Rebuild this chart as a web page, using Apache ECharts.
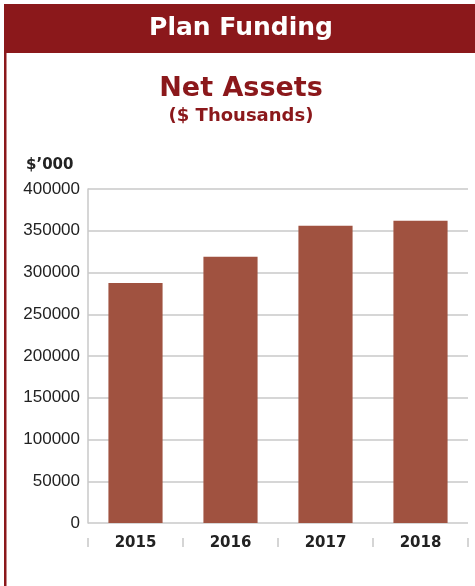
<!DOCTYPE html>
<html><head><meta charset="utf-8">
<script src="https://cdn.jsdelivr.net/npm/echarts@6/dist/echarts.min.js"></script>
<style>html,body{margin:0;padding:0;background:#fff}#c{width:475px;height:586px}</style>
</head><body><div id="c"></div>
<script>
var categories = ['2015', '2016', '2017', '2018'];
var netAssets = [287500, 319000, 356000, 362000];
var yTicks = [0, 50000, 100000, 150000, 200000, 250000, 300000, 350000, 400000];

var chart = echarts.init(document.getElementById('c'), null, {renderer: 'canvas'});
var red = '#8B181B';
var headFont = '"DejaVu Sans", sans-serif';
var option = {
  animation: false,
  backgroundColor: '#fff',
  graphic: [
    {type: 'rect', shape: {x: 4, y: 4, width: 471, height: 49}, style: {fill: red}},
    {type: 'rect', shape: {x: 4, y: 53, width: 2.5, height: 533}, style: {fill: red}},
    {type: 'text', x: 241, y: 28, style: {text: 'Plan Funding', fill: '#fff', font: 'bold 25px ' + headFont, textAlign: 'center', textVerticalAlign: 'middle'}},
    {type: 'text', x: 241, y: 89, style: {text: 'Net Assets', fill: red, font: 'bold 27px ' + headFont, textAlign: 'center', textVerticalAlign: 'middle'}},
    {type: 'text', x: 241, y: 116, style: {text: '($ Thousands)', fill: red, font: 'bold 18px ' + headFont, textAlign: 'center', textVerticalAlign: 'middle'}},
    {type: 'text', x: 26, y: 165, style: {text: '$\u2019000', fill: '#222', font: 'bold 15px ' + headFont, textAlign: 'left', textVerticalAlign: 'middle'}}
  ],
  grid: {left: 88, right: 7, top: 189, bottom: 63},
  xAxis: [
    {type: 'category', data: categories, axisLine: {show: false}, axisTick: {show: false},
     axisLabel: {margin: 13, color: '#222', fontSize: 15, fontWeight: 'bold', fontFamily: headFont}},
    {type: 'category', data: categories, position: 'bottom', offset: 15, axisLine: {show: false},
     axisTick: {show: true, length: 9, lineStyle: {color: '#c8c8c8', width: 1.5}}, axisLabel: {show: false}}
  ],
  yAxis: {
    type: 'value', min: 0, max: 400000, interval: 50000,
    axisLine: {show: true, lineStyle: {color: '#c8c8c8', width: 1.5}},
    axisTick: {show: false},
    splitLine: {show: true, lineStyle: {color: '#c8c8c8', width: 1.5}},
    axisLabel: {margin: 8, color: '#222', fontSize: 17, fontFamily: '"Liberation Sans", Arial, sans-serif',
      formatter: function (v) { return yTicks.indexOf(v) >= 0 ? String(v) : ''; }}
  },
  series: [{type: 'bar', data: netAssets, barWidth: '57%', itemStyle: {color: '#A05240'}, xAxisIndex: 0}]
};
chart.setOption(option);
</script></body></html>
